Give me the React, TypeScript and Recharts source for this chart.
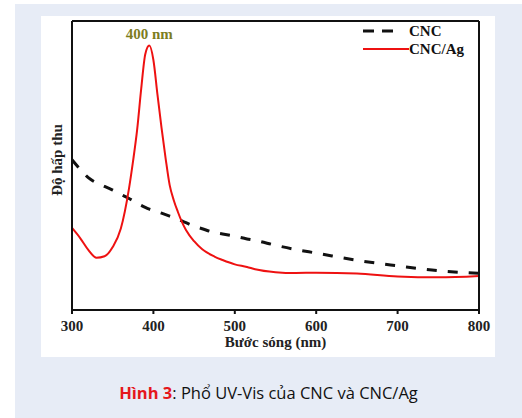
import React from 'react';
import { LineChart, Line, XAxis, YAxis, ReferenceDot } from 'recharts';

// bước sóng (nm)
const wavelengths = [300, 310, 320, 330, 340, 350, 360, 370, 375, 380, 385, 390, 395, 400, 405, 410, 415, 420, 425, 430, 435, 440, 450, 460, 475, 485, 500, 515, 525, 550, 575, 600, 650, 700, 750, 800];
// độ hấp thu (đơn vị tùy ý)
const cncValues = [0.52, 0.487, 0.458, 0.44, 0.428, 0.415, 0.4, 0.386, 0.378, 0.369, 0.362, 0.355, 0.349, 0.344, 0.34, 0.335, 0.33, 0.325, 0.32, 0.314, 0.308, 0.302, 0.29, 0.281, 0.268, 0.263, 0.255, 0.246, 0.241, 0.224, 0.209, 0.197, 0.172, 0.153, 0.136, 0.127];
const cncAgValues = [0.284, 0.249, 0.208, 0.181, 0.186, 0.218, 0.282, 0.42, 0.515, 0.623, 0.765, 0.885, 0.915, 0.865, 0.745, 0.63, 0.525, 0.432, 0.38, 0.34, 0.305, 0.277, 0.238, 0.21, 0.185, 0.173, 0.158, 0.149, 0.141, 0.131, 0.128, 0.129, 0.126, 0.116, 0.113, 0.118];
const xTicks = [300, 400, 500, 600, 700, 800];

const data = wavelengths.map((wl, i) => ({ wl, cnc: cncValues[i], cncAg: cncAgValues[i] }));

const serif = '"Liberation Serif", "DejaVu Serif", serif';

const LegendBox = () => (
  <div style={{ position: 'absolute', top: 22, left: 363, fontFamily: serif, fontWeight: 'bold', fontSize: 15, color: '#111', lineHeight: '18px' }}>
    <div style={{ display: 'flex', alignItems: 'center', height: 18 }}>
      <svg width={46} height={10}>
        <line x1={0} y1={5} x2={34} y2={5} stroke="#111" strokeWidth={3} strokeDasharray="11 8" />
      </svg>
      <span>CNC</span>
    </div>
    <div style={{ display: 'flex', alignItems: 'center', height: 18 }}>
      <svg width={46} height={10}>
        <line x1={0} y1={5} x2={46} y2={5} stroke="#ee1111" strokeWidth={2} />
      </svg>
      <span>CNC/Ag</span>
    </div>
  </div>
);

const App: React.FC = () => {
  return (
    <div style={{ position: 'absolute', top: 0, left: 0, width: 522, height: 418, background: '#fff' }}>
      <div style={{ position: 'absolute', left: 15, top: 4, width: 507, height: 414, background: '#e7ecf6' }} />
      <div style={{ position: 'absolute', left: 41, top: 16, width: 454, height: 341, background: '#fff' }} />

      <div style={{ position: 'absolute', top: 0, left: 0 }}>
        <LineChart width={522} height={418} data={data} margin={{ top: 19, right: 41, bottom: 68, left: 42 }}>
          <XAxis
            dataKey="wl"
            type="number"
            domain={[300, 800]}
            ticks={xTicks}
            axisLine={{ stroke: '#111', strokeWidth: 2 }}
            tickLine={{ stroke: '#111', strokeWidth: 2 }}
            tickSize={4}
            tickMargin={6}
            height={40}
            tick={{ fontFamily: serif, fontWeight: 'bold', fontSize: 15, fill: '#222' }}
            label={{ value: 'Bước sóng (nm)', position: 'insideBottom', offset: 3, style: { fontFamily: serif, fontWeight: 'bold', fontSize: 15, fill: '#222' } }}
          />
          <XAxis xAxisId="top" orientation="top" dataKey="wl" type="number" domain={[300, 800]} height={2} tick={false} tickLine={false} axisLine={{ stroke: '#111', strokeWidth: 2 }} />
          <YAxis domain={[0, 1]} width={30} tick={false} tickLine={false} axisLine={{ stroke: '#111', strokeWidth: 2 }} />
          <YAxis yAxisId="right" orientation="right" domain={[0, 1]} width={2} tick={false} tickLine={false} axisLine={{ stroke: '#111', strokeWidth: 2 }} />
          <Line type="monotone" dataKey="cnc" name="CNC" stroke="#111" strokeWidth={3} strokeDasharray="10 11" dot={false} isAnimationActive={false} />
          <Line type="monotone" dataKey="cncAg" name="CNC/Ag" stroke="#ee1111" strokeWidth={2} dot={false} isAnimationActive={false} />
          <ReferenceDot
            x={395}
            y={0.915}
            r={0}
            stroke="none"
            label={{ value: '400 nm', position: 'top', offset: 7, style: { fontFamily: serif, fontWeight: 'bold', fontSize: 15, fill: '#7d7d1e' } }}
          />
        </LineChart>
      </div>

      <LegendBox />

      <div
        style={{
          position: 'absolute',
          left: 57,
          top: 160,
          transform: 'translate(-50%, -50%) rotate(-90deg)',
          whiteSpace: 'nowrap',
          fontFamily: serif,
          fontWeight: 'bold',
          fontSize: 15,
          color: '#222',
        }}
      >
        Độ hấp thu
      </div>

      <div
        style={{
          position: 'absolute',
          left: 15,
          width: 507,
          top: 381,
          textAlign: 'center',
          fontFamily: '"Open Sans", "Noto Sans", sans-serif',
          fontSize: 16.5,
          color: '#111',
        }}
      >
        <span style={{ color: '#e5171c', fontWeight: 'bold' }}>Hình 3</span>: Phổ UV-Vis của CNC và CNC/Ag
      </div>
    </div>
  );
};

export default App;
